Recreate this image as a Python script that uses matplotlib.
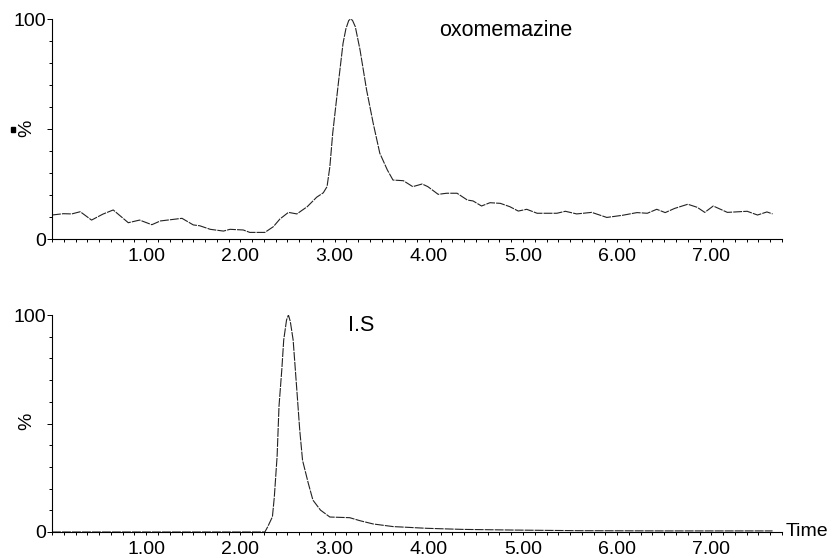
import matplotlib.pyplot as plt
from matplotlib.patches import Rectangle
from matplotlib.ticker import MultipleLocator, FixedLocator

plt.rcParams['font.family'] = ['Liberation Sans', 'DejaVu Sans']

# oxomemazine trace (time in min, relative intensity %)
oxo_time = [0.00, 0.12, 0.21, 0.30, 0.42, 0.54, 0.65, 0.81, 0.93, 1.06, 1.15, 1.38,
            1.50, 1.57, 1.68, 1.82, 1.89, 2.03, 2.10, 2.26, 2.35, 2.42, 2.51, 2.60,
            2.71, 2.81, 2.88, 2.92, 2.95, 2.98, 3.04, 3.09, 3.12, 3.15, 3.17, 3.19,
            3.22, 3.27, 3.34, 3.41, 3.48, 3.56, 3.62, 3.73, 3.83, 3.93, 3.99, 4.10,
            4.19, 4.30, 4.41, 4.47, 4.56, 4.65, 4.76, 4.86, 4.95, 5.04, 5.15, 5.36,
            5.45, 5.57, 5.73, 5.89, 6.06, 6.21, 6.32, 6.42, 6.51, 6.61, 6.75, 6.85,
            6.93, 7.02, 7.17, 7.38, 7.49, 7.59, 7.65]
oxo_pct = [10.9, 11.5, 11.4, 12.4, 8.6, 11.3, 13.2, 7.4, 8.6, 6.5, 8.2, 9.4,
           6.4, 6.0, 4.4, 3.6, 4.4, 4.1, 3.0, 3.0, 5.6, 9.1, 12.1, 11.4,
           14.7, 19.0, 21.0, 23.8, 32.9, 48.0, 70.8, 89.0, 95.5, 99.3, 100.0, 99.4,
           96.5, 86.0, 67.7, 52.6, 39.0, 31.4, 26.8, 26.5, 23.8, 25.0, 23.8, 20.3,
           20.8, 20.8, 17.7, 17.3, 15.0, 16.5, 16.2, 14.7, 12.7, 13.5, 11.7, 11.7,
           12.6, 11.4, 12.1, 9.8, 10.8, 12.0, 11.7, 13.5, 12.0, 13.9, 15.8, 14.4,
           12.1, 15.0, 12.1, 12.6, 10.9, 12.3, 11.4]

# internal standard trace
is_time = [0.00, 1.00, 2.00, 2.26, 2.29, 2.34, 2.36, 2.39, 2.41, 2.44, 2.46, 2.49,
           2.51, 2.53, 2.56, 2.60, 2.63, 2.66, 2.72, 2.77, 2.85, 2.95, 3.16, 3.27,
           3.41, 3.62, 3.98, 4.36, 4.89, 5.61, 6.50, 7.65]
is_pct = [0.0, 0.0, 0.0, 0.0, 2.4, 7.0, 16.0, 35.0, 58.0, 75.0, 88.5, 97.7,
          100.0, 97.0, 88.5, 65.0, 47.0, 33.0, 22.6, 14.7, 10.1, 6.9, 6.6, 5.2,
          3.7, 2.5, 1.7, 1.2, 0.9, 0.6, 0.5, 0.5]

x_ticks = [1, 2, 3, 4, 5, 6, 7]
x_labels = ['1.00', '2.00', '3.00', '4.00', '5.00', '6.00', '7.00']

fig = plt.figure(figsize=(8.33, 5.58), dpi=100)
ax1 = fig.add_axes([52 / 833, 1 - 239 / 558, 730 / 833, 220 / 558])
ax2 = fig.add_axes([52 / 833, 1 - 532 / 558, 730 / 833, 217 / 558])

for ax, t, v, name, nx in [(ax1, oxo_time, oxo_pct, 'oxomemazine', 4.11),
                           (ax2, is_time, is_pct, 'I.S', 3.14)]:
    ax.plot(t, v, color='#222222', lw=0.8, linestyle=(0, (8, 1)))
    ax.set_xlim(0, 7.75)
    ax.set_ylim(0, 100)
    for s in ['top', 'right']:
        ax.spines[s].set_visible(False)
    for s in ['left', 'bottom']:
        ax.spines[s].set_linewidth(0.8)
    ax.set_xticks(x_ticks)
    ax.set_xticklabels(x_labels, fontsize=14)
    ax.xaxis.set_minor_locator(MultipleLocator(0.125))
    ax.yaxis.set_major_locator(FixedLocator([0, 50, 100]))
    ax.set_yticklabels(['0', '', '100'], fontsize=14)
    ax.yaxis.set_minor_locator(MultipleLocator(10))
    ax.tick_params(axis='x', which='both', direction='out', length=2.2, width=0.7, pad=4.5)
    ax.tick_params(axis='y', which='major', direction='out', length=3.5, width=0.7, pad=1)
    ax.tick_params(axis='y', which='minor', direction='out', length=2.2, width=0.7)
    ax.text(nx, 95, name, fontsize=15.5, va='center', ha='left')

fig.text(27 / 833, 1 - 128 / 558, '%', rotation=90, fontsize=14, ha='center', va='center')
fig.text(27 / 833, 1 - 421 / 558, '%', rotation=90, fontsize=14, ha='center', va='center')
fig.patches.append(Rectangle((11 / 833, 1 - 132 / 558), 4 / 833, 5 / 558,
                             transform=fig.transFigure, color='black'))
fig.text(786 / 833, 1 - 532 / 558, 'Time', fontsize=14, ha='left', va='center')

fig.savefig('out.png', dpi=100)
